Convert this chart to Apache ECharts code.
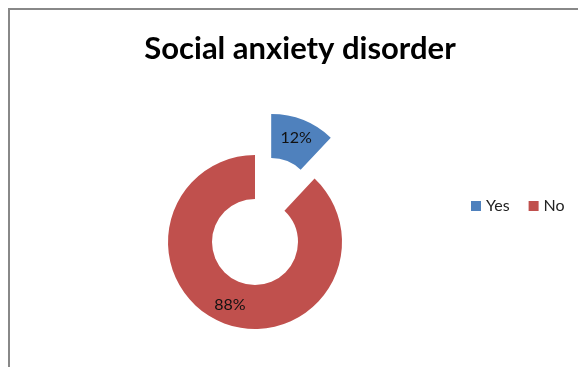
<!DOCTYPE html>
<html>
<head>
<meta charset="utf-8">
<script src="https://cdn.jsdelivr.net/npm/echarts@6/dist/echarts.min.js"></script>
<style>html,body{margin:0;padding:0;background:#fff;}#c{width:578px;height:367px;}</style>
</head>
<body>
<div id="c"></div>
<script>
const titleText = "Social anxiety disorder";
const categories = ["Yes", "No"];
const values = [12, 88];
const colors = ["#4F81BD", "#C0504D"];

const chart = echarts.init(document.getElementById('c'), null, {renderer: 'canvas'});
chart.setOption({
  animation: false,
  backgroundColor: '#fff',
  title: {
    text: titleText,
    left: 295, top: 28, textAlign: 'center',
    textStyle: {fontFamily: 'Lato', fontWeight: 'bold', fontSize: 31, color: '#000'}
  },
  graphic: [{
    type: 'polyline',
    shape: {points: [[9, 400], [9, 9], [600, 9]]},
    style: {stroke: '#888', lineWidth: 2, fill: null},
    silent: true
  }],
  legend: {
    data: categories,
    left: 466, top: 193,
    icon: 'rect', itemWidth: 10, itemHeight: 10, itemGap: 19,
    textStyle: {fontFamily: 'Lato', fontSize: 16, color: '#222'},
    selectedMode: false
  },
  series: [{
    type: 'pie',
    center: [255, 242],
    radius: [43, 87],
    startAngle: 90,
    clockwise: true,
    selectedMode: 'single',
    selectedOffset: 44,
    avoidLabelOverlap: false,
    emphasis: {disabled: true},
    label: {show: true, position: 'inside', formatter: '{d}%', fontFamily: 'Lato', fontSize: 16, color: '#111'},
    labelLine: {show: false},
    data: categories.map((c, i) => ({name: c, value: values[i], selected: i === 0, itemStyle: {color: colors[i]}}))
  }]
});
</script>
</body>
</html>
